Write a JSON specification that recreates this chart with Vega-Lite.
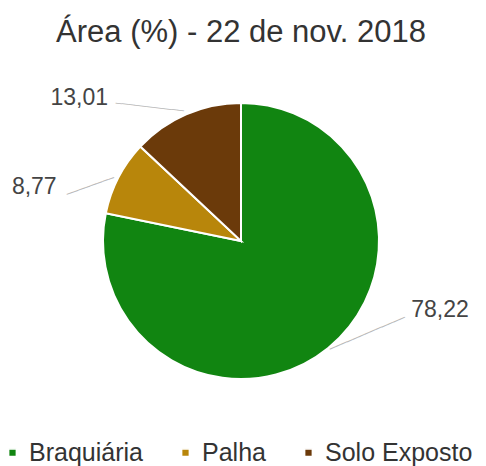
{
  "$schema": "https://vega.github.io/schema/vega-lite/v6.json",
  "autosize": {"type": "none"},
  "width": 482,
  "height": 362,
  "padding": {"left": 0, "top": 60, "right": 4, "bottom": 44},
  "background": "white",
  "title": {
    "text": "Área (%) - 22 de nov. 2018",
    "font": "Liberation Sans",
    "fontSize": 31,
    "fontWeight": "normal",
    "color": "#333333",
    "anchor": "middle",
    "offset": 11
  },
  "data": {
    "values": [
      {"classe": "Braquiária", "area": 78.22, "label": "78,22", "ordem": 1},
      {"classe": "Palha", "area": 8.77, "label": "8,77", "ordem": 2},
      {"classe": "Solo Exposto", "area": 13.01, "label": "13,01", "ordem": 3}
    ]
  },
  "transform": [
    {"stack": "area", "groupby": [], "sort": [{"field": "ordem", "order": "ascending"}], "as": ["t0", "t1"]}
  ],
  "encoding": {
    "theta": {"field": "t0", "type": "quantitative", "stack": null, "scale": {"domain": [0, 100]}},
    "theta2": {"field": "t1"},
    "color": {
      "field": "classe",
      "type": "nominal",
      "sort": ["Braquiária", "Palha", "Solo Exposto"],
      "scale": {
        "domain": ["Braquiária", "Palha", "Solo Exposto"],
        "range": ["#118511", "#b8860b", "#6b3a0a"]
      },
      "legend": {
        "title": null,
        "orient": "bottom",
        "direction": "horizontal",
        "symbolType": "square",
        "symbolSize": 60,
        "labelFont": "Liberation Sans",
        "labelFontSize": 25,
        "labelColor": "#333333",
        "columnPadding": 30,
        "offset": 18
      }
    }
  },
  "layer": [
    {
      "mark": {"type": "arc", "outerRadius": 138, "stroke": "white", "strokeWidth": 2}
    },
    {
      "transform": [{"filter": "datum.classe === 'Solo Exposto'"}],
      "mark": {"type": "text", "radius": 0, "angle": 6.6, "dx": -106, "dy": -122, "font": "DejaVu Sans", "fontSize": 10.4},
      "encoding": {"text": {"value": "───────────"}, "color": {"value": "#b8b8b8"}}
    },
    {
      "transform": [{"filter": "datum.classe === 'Palha'"}],
      "mark": {"type": "text", "radius": 0, "angle": -19.9, "dx": -123, "dy": -102.5, "font": "DejaVu Sans", "fontSize": 10.4},
      "encoding": {"text": {"value": "────────"}, "color": {"value": "#b8b8b8"}}
    },
    {
      "transform": [{"filter": "datum.classe === 'Braquiária'"}],
      "mark": {"type": "text", "radius": 0, "angle": -23.1, "dx": 80, "dy": 135, "font": "DejaVu Sans", "fontSize": 10.4},
      "encoding": {"text": {"value": "─────────────"}, "color": {"value": "#b8b8b8"}}
    },
    {
      "transform": [{"filter": "datum.classe === 'Solo Exposto'"}],
      "mark": {"type": "text", "radius": 160, "dx": -45, "dy": -34, "font": "Liberation Sans", "fontSize": 23},
      "encoding": {"text": {"field": "label"}, "color": {"value": "#444444"}}
    },
    {
      "transform": [{"filter": "datum.classe === 'Palha'"}],
      "mark": {"type": "text", "radius": 160, "dx": -50, "dy": -22, "font": "Liberation Sans", "fontSize": 23},
      "encoding": {"text": {"field": "label"}, "color": {"value": "#444444"}}
    },
    {
      "transform": [{"filter": "datum.classe === 'Braquiária'"}],
      "mark": {"type": "text", "radius": 160, "dx": 199, "dy": 229, "font": "Liberation Sans", "fontSize": 23},
      "encoding": {"text": {"field": "label"}, "color": {"value": "#444444"}}
    }
  ]
}
